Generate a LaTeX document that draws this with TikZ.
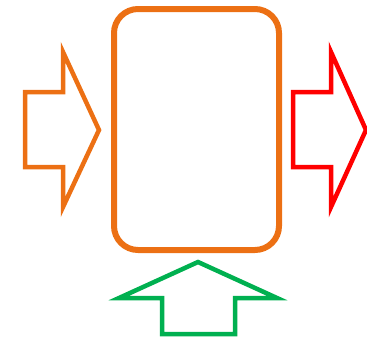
\documentclass[tikz,border=0pt]{standalone}
\usepackage{tikz}
\definecolor{boxorange}{RGB}{236,112,20}
\definecolor{outred}{RGB}{255,0,0}
\definecolor{ingreen}{RGB}{0,176,80}

\begin{document}
\begin{tikzpicture}[x=1pt,y=-1pt,
  arrowline/.style={line width=4.5pt,line join=miter,miter limit=10},
  boxline/.style={line width=6pt,rounded corners=24pt}]
  \useasboundingbox (0,0) rectangle (367,338);
  % central box
  \draw[boxline,boxorange] (114,9) rectangle (279,250);
  % input arrow (left)
  \draw[arrowline,boxorange] (25,92) -- (63,92) -- (63,52) -- (99,130) -- (63,207) -- (63,167) -- (25,167) -- cycle;
  % output arrow (right)
  \draw[arrowline,outred] (293,92) -- (331,92) -- (331,52) -- (366,130) -- (331,207) -- (331,167) -- (293,167) -- cycle;
  % arrow from below
  \draw[arrowline,ingreen] (162,334) -- (162,298) -- (119,298) -- (198,262) -- (277,298) -- (235,298) -- (235,334) -- cycle;
\end{tikzpicture}
\end{document}
